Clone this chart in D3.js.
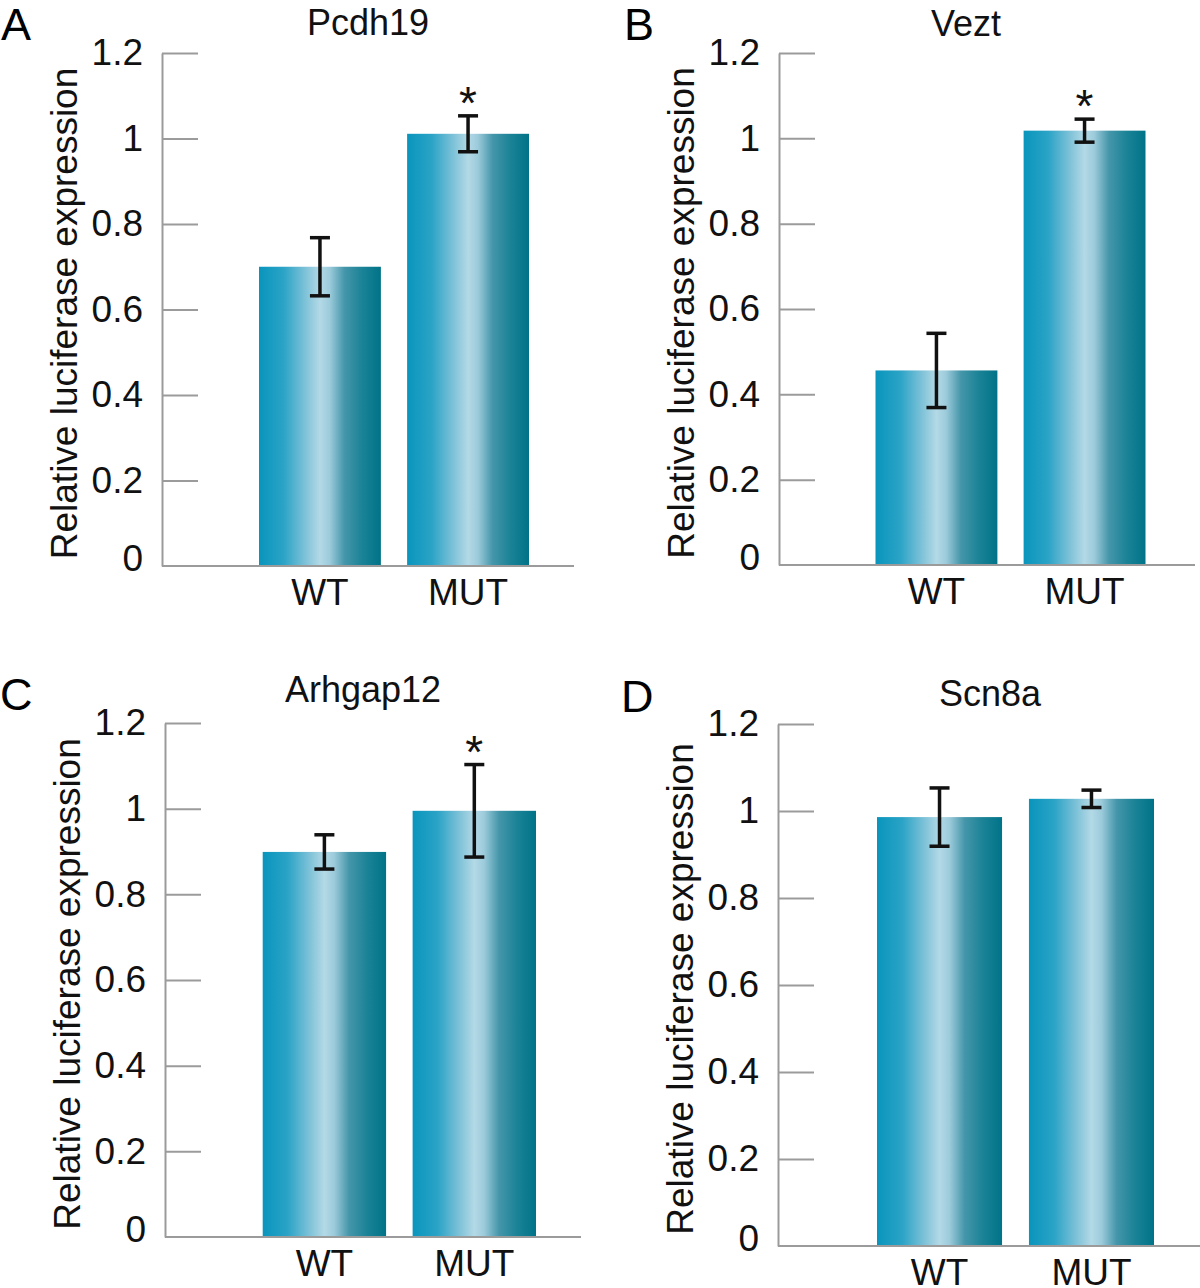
<!DOCTYPE html>
<html>
<head>
<meta charset="utf-8">
<script src="https://cdn.jsdelivr.net/npm/d3@7"></script>
<style>
  body { margin: 0; background: #fff; }
  svg { display: block; font-family: "Liberation Sans", Arial, Helvetica, sans-serif; }
</style>
</head>
<body>
<svg id="chart" width="1200" height="1288"></svg>
<script>
/* luciferase reporter panels A–D: WT vs MUT, mean ± error */

const panelLetters = ['A', 'B', 'C', 'D'];
const genes = ['Pcdh19', 'Vezt', 'Arhgap12', 'Scn8a'];
const groups = ['WT', 'MUT'];
const wtMean = [0.700, 0.456, 0.899, 0.986];
const wtErr = [0.068, 0.087, 0.040, 0.067];
const mutMean = [1.011, 1.018, 0.995, 1.028];
const mutErr = [0.042, 0.027, 0.108, 0.020];
const mutStar = [true, true, true, false];
const yTicks = [0, 0.2, 0.4, 0.6, 0.8, 1, 1.2];
const yMax = 1.2;
const yLabel = 'Relative luciferase expression';

// page frame of each panel (axis x, 1.2 line, zero line, baseline end, bar span, title, letter)
const frames = [
  { ax: 162, top: 53, base: 566, right: 574, b0: 259, b1: 529, tx: 368, ty: 35, lx: 1, ly: 40 },
  { ax: 779, top: 53, base: 565, right: 1195, b0: 875.5, b1: 1145.5, tx: 966, ty: 36, lx: 624, ly: 40 },
  { ax: 165, top: 723, base: 1237, right: 581, b0: 262.7, b1: 536, tx: 363, ty: 702, lx: 0, ly: 710 },
  { ax: 778, top: 724, base: 1246, right: 1200, b0: 877, b1: 1154, tx: 990, ty: 706, lx: 621, ly: 712 }
];

const AXIS = '#9b9b9b';
const INK = '#111';
const FS = 37;

const svg = d3.select('#chart');
svg.append('rect').attr('width', 1200).attr('height', 1288).attr('fill', '#fff');

/* horizontal shading used on every bar */
const grad = svg.append('defs').append('linearGradient')
  .attr('id', 'barGrad').attr('x1', 0).attr('x2', 1).attr('y1', 0).attr('y2', 0);
[
  [0, '#0995bd'], [0.2, '#2aa3c6'], [0.38, '#7ec2d8'], [0.5, '#b3d9e6'],
  [0.58, '#9ccbdb'], [0.7, '#4596aa'], [0.85, '#1a8296'], [1, '#007388']
].forEach(([o, c]) => grad.append('stop').attr('offset', o).attr('stop-color', c));

frames.forEach((f, i) => {
  const g = svg.append('g');
  const y = d3.scaleLinear().domain([0, yMax]).range([f.base, f.top]);
  const x = d3.scaleBand().domain(groups).range([f.b0, f.b1]).paddingInner(0.177).paddingOuter(0);

  const rows = groups.map((k, j) => ({
    k,
    m: j ? mutMean[i] : wtMean[i],
    e: j ? mutErr[i] : wtErr[i],
    star: j ? mutStar[i] : false
  }));

  /* y axis: ticks point inward, zero tick replaced by the long baseline */
  const axis = g.append('g')
    .attr('transform', `translate(${f.ax},0)`)
    .call(d3.axisLeft(y).tickValues(yTicks).tickFormat(String)
      .tickSizeInner(-36).tickSizeOuter(0).tickPadding(19));
  axis.select('.domain').attr('stroke', AXIS).attr('stroke-width', 2);
  axis.selectAll('.tick line').attr('stroke', AXIS).attr('stroke-width', 2)
    .filter((d) => d === 0).remove();
  axis.selectAll('.tick text').attr('fill', INK).attr('font-size', FS)
    .attr('font-family', '"Liberation Sans", Arial, sans-serif')
    .filter((d) => d === 0).attr('dy', '0.13em');

  /* bars */
  g.append('g').selectAll('rect').data(rows).join('rect')
    .attr('x', (d) => x(d.k))
    .attr('width', x.bandwidth())
    .attr('y', (d) => y(d.m))
    .attr('height', (d) => y(0) - y(d.m))
    .attr('fill', 'url(#barGrad)');

  g.append('line')
    .attr('x1', f.ax).attr('x2', f.right)
    .attr('y1', y(0)).attr('y2', y(0))
    .attr('stroke', AXIS).attr('stroke-width', 2);

  /* error bars */
  const eb = g.append('g').attr('stroke', INK).attr('stroke-width', 3.5);
  rows.forEach((d) => {
    const cx = x(d.k) + x.bandwidth() / 2;
    eb.append('line').attr('x1', cx).attr('x2', cx).attr('y1', y(d.m - d.e)).attr('y2', y(d.m + d.e));
    [d.m - d.e, d.m + d.e].forEach((v) => {
      eb.append('line').attr('x1', cx - 10).attr('x2', cx + 10).attr('y1', y(v)).attr('y2', y(v));
    });
  });

  /* significance marks */
  g.append('g').selectAll('text').data(rows.filter((d) => d.star)).join('text')
    .attr('x', (d) => x(d.k) + x.bandwidth() / 2)
    .attr('y', (d) => y(d.m + d.e) + 3)
    .attr('text-anchor', 'middle').attr('font-size', 46).attr('fill', INK)
    .text('*');

  /* category labels */
  g.append('g').selectAll('text').data(rows).join('text')
    .attr('x', (d) => x(d.k) + x.bandwidth() / 2)
    .attr('y', f.base + 39)
    .attr('text-anchor', 'middle').attr('font-size', FS).attr('fill', INK)
    .text((d) => d.k);

  g.append('text')
    .attr('transform', `translate(${f.ax - 85},${(f.top + f.base) / 2 + 4}) rotate(-90)`)
    .attr('text-anchor', 'middle').attr('font-size', FS).attr('fill', INK)
    .text(yLabel);

  g.append('text')
    .attr('x', f.tx).attr('y', f.ty)
    .attr('text-anchor', 'middle').attr('font-size', 36).attr('fill', INK)
    .text(genes[i]);

  g.append('text')
    .attr('x', f.lx).attr('y', f.ly)
    .attr('font-size', 45).attr('fill', '#000')
    .text(panelLetters[i]);
});
</script>
</body>
</html>
